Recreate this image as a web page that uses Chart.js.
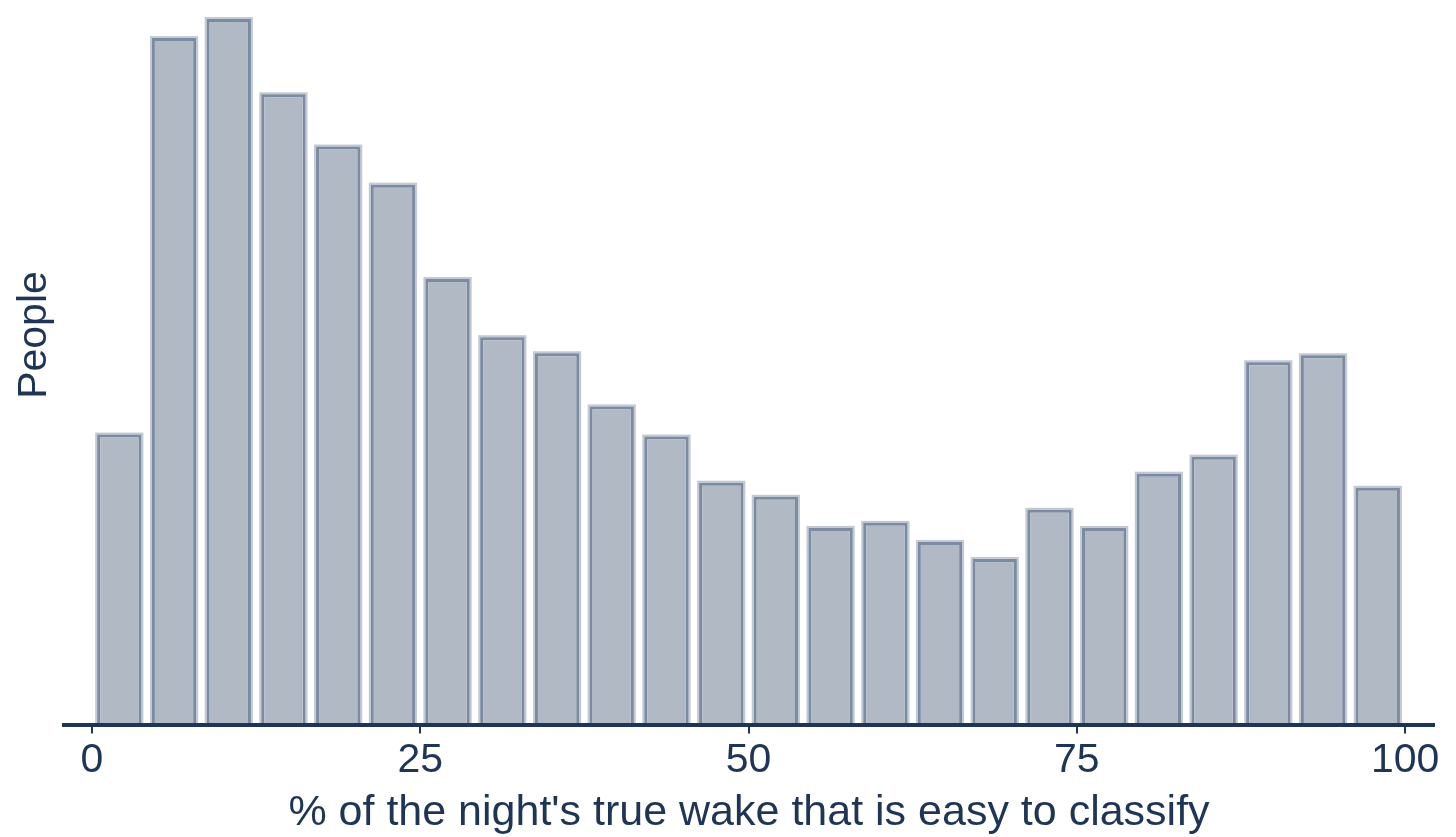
<!DOCTYPE html>
<html lang="en">
<head>
<meta charset="UTF-8">
<title>Easy wake histogram</title>
<script src="https://cdn.jsdelivr.net/npm/chart.js"></script>
<style>
  html, body { margin: 0; padding: 0; background: #fff; }
  #wrap { width: 1456px; height: 837px; }
</style>
</head>
<body>
<div id="wrap"><canvas id="histChart"></canvas></div>
<script>
// bin centres (% of true wake that is easy to classify), 24 bins over 0-100
const binCenters = [2.08, 6.25, 10.42, 14.58, 18.75, 22.92, 27.08, 31.25, 35.42, 39.58, 43.75, 47.92,
                    52.08, 56.25, 60.42, 64.58, 68.75, 72.92, 77.08, 81.25, 85.42, 89.58, 93.75, 97.92];
// number of people per bin (arbitrary units)
const people = [289, 684, 703, 628, 576, 538, 444, 386, 370, 317, 287, 241,
                227, 196, 201, 182, 165, 214, 196, 250, 267, 361, 368, 236];
const xTicks = [0, 25, 50, 75, 100];

const navy = '#1f3556';
const fontFamily = '"Liberation Sans", Arial, sans-serif';

// soft light halo round each bar, like the sketchy outline in the original
const haloPlugin = {
  id: 'halo',
  beforeDatasetsDraw(chart) {
    const c = chart.ctx;
    c.save();
    c.strokeStyle = '#c3cad4';
    c.lineWidth = 4;
    chart.getDatasetMeta(0).data.forEach(bar => {
      const p = bar.getProps(['x', 'y', 'base', 'width'], true);
      c.strokeRect(p.x - p.width / 2, p.y, p.width, p.base - p.y);
    });
    c.restore();
  }
};

// y title sits a bit above the chart area centre in the original
const yTitlePlugin = {
  id: 'yTitle',
  afterDraw(chart) {
    const c = chart.ctx;
    c.save();
    c.translate(35, 335);
    c.rotate(-Math.PI / 2);
    c.fillStyle = navy;
    c.font = '41px ' + fontFamily;
    c.textAlign = 'center';
    c.textBaseline = 'middle';
    c.fillText('People', 0, 0);
    c.restore();
  }
};

const ctx = document.getElementById('histChart').getContext('2d');
new Chart(ctx, {
  type: 'bar',
  data: {
    datasets: [{
      label: 'People',
      data: binCenters.map((x, i) => ({ x: x, y: people[i] })),
      backgroundColor: '#b1b9c5',
      borderColor: '#7b8ca2',
      borderWidth: 3,
      borderSkipped: 'bottom',
      categoryPercentage: 1.0,
      barPercentage: 0.81
    }]
  },
  options: {
    responsive: true,
    maintainAspectRatio: false,
    animation: false,
    layout: { padding: { top: 10, left: 64, right: 22, bottom: 0 } },
    plugins: {
      legend: { display: false },
      tooltip: { enabled: false }
    },
    scales: {
      x: {
        type: 'linear',
        offset: false,
        min: -2.13,
        max: 102.2,
        afterBuildTicks: (scale) => { scale.ticks = xTicks.map(v => ({ value: v })); },
        grid: { display: true, offset: false, drawOnChartArea: false, drawTicks: true, tickLength: 9, color: navy, lineWidth: 2 },
        border: { display: true, color: navy, width: 4, z: 1 },
        ticks: {
          color: navy,
          padding: 5,
          maxRotation: 0,
          font: { family: fontFamily, size: 41, lineHeight: 1.1 }
        },
        title: {
          display: true,
          text: "% of the night's true wake that is easy to classify",
          color: navy,
          padding: { top: 1, bottom: 0 },
          font: { family: fontFamily, size: 43, lineHeight: 1.1 }
        }
      },
      y: {
        display: false,
        min: 0,
        max: 712
      }
    }
  },
  plugins: [haloPlugin, yTitlePlugin]
});
</script>
</body>
</html>
